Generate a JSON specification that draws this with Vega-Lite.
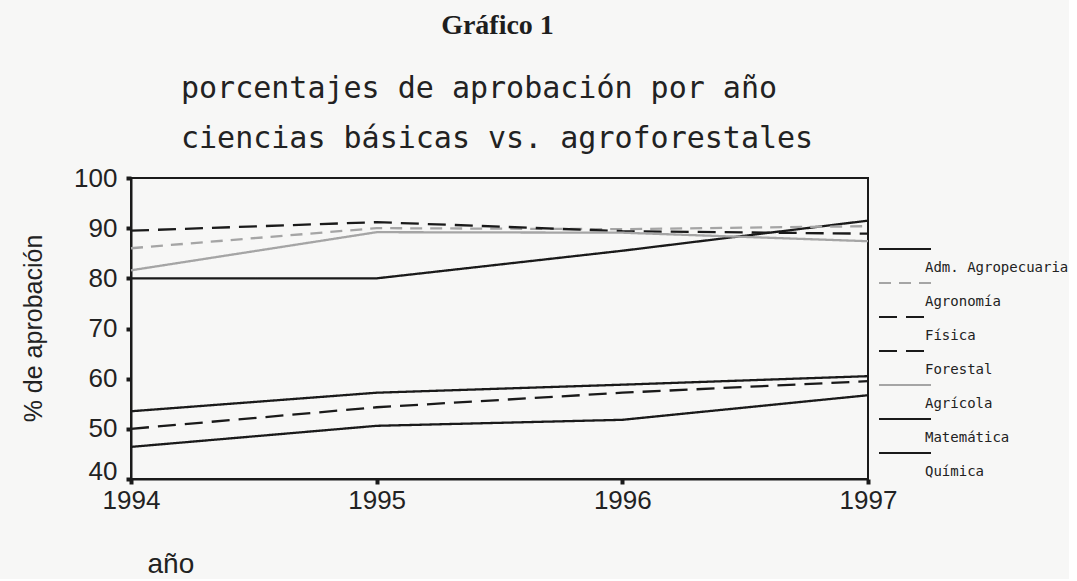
{
  "$schema": "https://vega.github.io/schema/vega-lite/v6.json",
  "background": "#f7f7f6",
  "padding": {"left": 20, "top": 12, "right": 0, "bottom": 0},
  "title": {
    "text": "Gráfico 1",
    "font": "Liberation Serif",
    "fontWeight": "bold",
    "fontSize": 28,
    "color": "#1e1e1e",
    "anchor": "middle",
    "dx": -47,
    "offset": 33
  },
  "vconcat": [
    {
      "width": 737,
      "height": 301,
      "title": {
        "text": ["porcentajes de aprobación por año", "ciencias básicas vs. agroforestales"],
        "font": "DejaVu Sans Mono",
        "fontSize": 30,
        "fontWeight": "normal",
        "color": "#222222",
        "anchor": "start",
        "dx": 160,
        "lineHeight": 50,
        "offset": 11
      },
      "data": {
        "values": [
          {"series": "Adm. Agropecuaria", "year": 1994, "value": 80},
          {"series": "Adm. Agropecuaria", "year": 1995, "value": 80},
          {"series": "Adm. Agropecuaria", "year": 1996, "value": 85.5},
          {"series": "Adm. Agropecuaria", "year": 1997, "value": 91.5},
          {"series": "Agronomía", "year": 1994, "value": 86},
          {"series": "Agronomía", "year": 1995, "value": 90},
          {"series": "Agronomía", "year": 1996, "value": 89.8},
          {"series": "Agronomía", "year": 1997, "value": 90.4},
          {"series": "Física", "year": 1994, "value": 50},
          {"series": "Física", "year": 1995, "value": 54.3},
          {"series": "Física", "year": 1996, "value": 57.2},
          {"series": "Física", "year": 1997, "value": 59.5},
          {"series": "Forestal", "year": 1994, "value": 89.5},
          {"series": "Forestal", "year": 1995, "value": 91.2},
          {"series": "Forestal", "year": 1996, "value": 89.4},
          {"series": "Forestal", "year": 1997, "value": 88.9},
          {"series": "Agrícola", "year": 1994, "value": 81.6},
          {"series": "Agrícola", "year": 1995, "value": 89.2},
          {"series": "Agrícola", "year": 1996, "value": 89.1},
          {"series": "Agrícola", "year": 1997, "value": 87.4},
          {"series": "Matemática", "year": 1994, "value": 53.5},
          {"series": "Matemática", "year": 1995, "value": 57.2},
          {"series": "Matemática", "year": 1996, "value": 58.8},
          {"series": "Matemática", "year": 1997, "value": 60.5},
          {"series": "Química", "year": 1994, "value": 46.4},
          {"series": "Química", "year": 1995, "value": 50.6},
          {"series": "Química", "year": 1996, "value": 51.8},
          {"series": "Química", "year": 1997, "value": 56.7}
        ]
      },
      "mark": {"type": "line", "strokeWidth": 2.3},
      "encoding": {
        "x": {
          "field": "year",
          "type": "quantitative",
          "scale": {"domain": [1994, 1997], "nice": false, "zero": false},
          "axis": {
            "values": [1994, 1995, 1996, 1997],
            "format": "d",
            "title": "año",
            "titleFont": "Liberation Sans",
            "titleFontSize": 28,
            "titleFontWeight": "normal",
            "titleColor": "#222222",
            "titleAnchor": "start",
            "titleAlign": "left",
            "titleBaseline": "alphabetic",
            "titleX": 16,
            "titleY": 93,
            "labelFontSize": 26,
            "labelPadding": 3,
            "labelFlush": false
          }
        },
        "y": {
          "field": "value",
          "type": "quantitative",
          "scale": {"domain": [40, 100], "nice": false, "zero": false},
          "axis": {
            "values": [40, 50, 60, 70, 80, 90, 100],
            "title": "% de aprobación",
            "titleFont": "Liberation Sans",
            "titleFontSize": 25,
            "titleFontWeight": "normal",
            "titleColor": "#222222",
            "titleAngle": -90,
            "titleAlign": "center",
            "titleBaseline": "middle",
            "titleX": -98,
            "titleY": 150,
            "labelFontSize": 26,
            "labelPadding": 9,
            "labelBaseline": {"condition": {"test": "datum.value == 40", "value": "alphabetic"}, "value": "middle"}
          }
        },
        "color": {
          "field": "series",
          "type": "nominal",
          "scale": {
            "domain": ["Adm. Agropecuaria", "Agronomía", "Física", "Forestal", "Agrícola", "Matemática", "Química"],
            "range": ["#1a1a1a", "#a5a5a5", "#1a1a1a", "#1a1a1a", "#a5a5a5", "#1a1a1a", "#1a1a1a"]
          },
          "legend": {
            "title": null,
            "orient": "none",
            "legendX": 747,
            "legendY": 63,
            "padding": 0,
            "symbolType": "M-1,-0.73H1",
            "symbolSize": 2704,
            "symbolStrokeWidth": 2,
            "symbolFillColor": "transparent",
            "labelFont": "DejaVu Sans Mono",
            "labelFontSize": 14,
            "labelColor": "#222222",
            "labelOffset": -7,
            "rowPadding": -20
          }
        },
        "strokeDash": {
          "field": "series",
          "type": "nominal",
          "scale": {
            "domain": ["Adm. Agropecuaria", "Agronomía", "Física", "Forestal", "Agrícola", "Matemática", "Química"],
            "range": [[1, 0], [12, 8], [18, 9], [18, 9], [1, 0], [1, 0], [1, 0]]
          }
        }
      }
    }
  ],
  "config": {
    "font": "Liberation Sans",
    "view": {"stroke": "#1a1a1a", "strokeWidth": 2},
    "axis": {
      "grid": false,
      "domainColor": "#1a1a1a",
      "domainWidth": 2,
      "tickColor": "#1a1a1a",
      "tickSize": 5,
      "tickWidth": 4,
      "labelColor": "#222222",
      "labelFont": "Liberation Sans"
    }
  }
}
